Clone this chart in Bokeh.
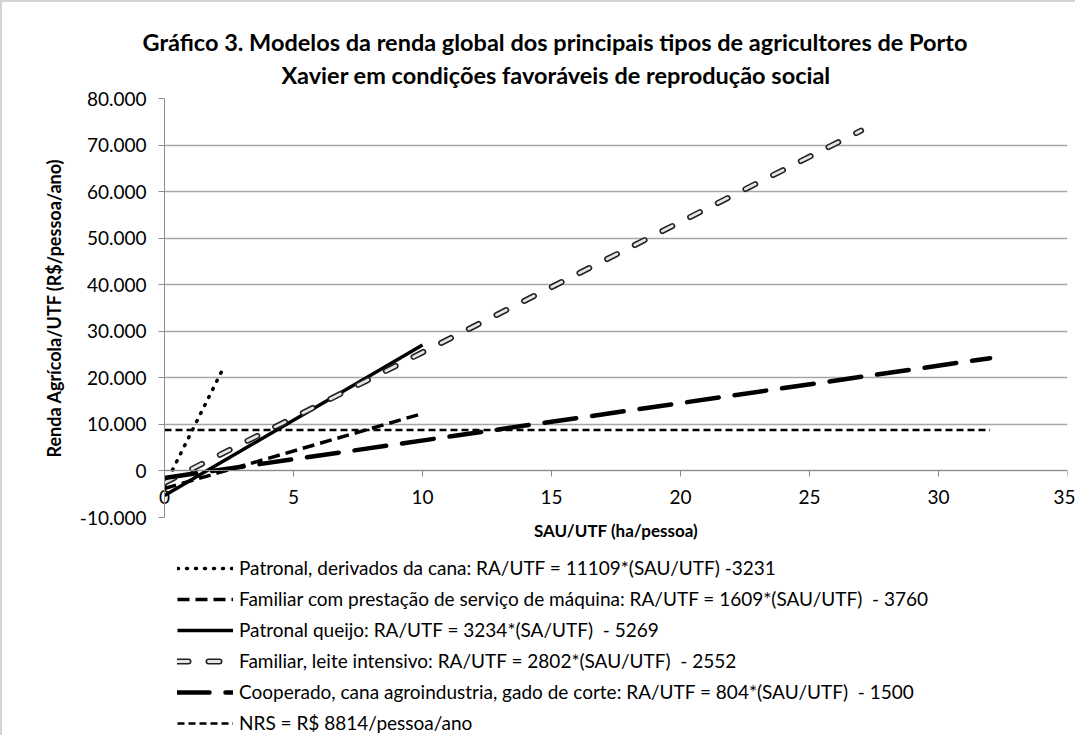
from bokeh.plotting import figure
from bokeh.layouts import column
from bokeh.models import (Range1d, LinearAxis, FixedTicker, Legend, LegendItem, Title)
from bokeh.embed import file_html
from bokeh.resources import INLINE

# ---- data (endpoints of each model line) ----
names = [
    "Patronal, derivados da cana: RA/UTF = 11109*(SAU/UTF) -3231",
    "Familiar com prestação de serviço de máquina: RA/UTF = 1609*(SAU/UTF)  - 3760",
    "Patronal queijo: RA/UTF = 3234*(SA/UTF)  - 5269",
    "Familiar, leite intensivo: RA/UTF = 2802*(SAU/UTF)  - 2552",
    "Cooperado, cana agroindustria, gado de corte: RA/UTF = 804*(SAU/UTF)  - 1500",
    "NRS = R$ 8814/pessoa/ano",
]
cana_x = [0, 2.23]
cana_y = [-3231, 21542]
maquina_x = [0, 10]
maquina_y = [-3760, 12330]
queijo_x = [0, 10]
queijo_y = [-5269, 27071]
leite_x = [0, 27]
leite_y = [-2552, 73102]
coop_x = [0, 32]
coop_y = [-1500, 24228]
nrs_x = [0, 32]
nrs_y = [8814, 8814]

y_ticks = [-10000, 0, 10000, 20000, 30000, 40000, 50000, 60000, 70000, 80000]
x_ticks = [0, 5, 10, 15, 20, 25, 30, 35]

FONT = "Lato"
GRID = "#a6a6a6"
AXIS = "#8c8c8c"
BORDER = "2px solid #d4d4d4"

series = [
    (cana_x, cana_y, [dict(line_color="black", line_width=3.5, line_dash="1 8", line_cap="round")]),
    (maquina_x, maquina_y, [dict(line_color="black", line_width=3.5, line_dash="12 6")]),
    (queijo_x, queijo_y, [dict(line_color="black", line_width=3.5)]),
    (leite_x, leite_y, [dict(line_color="#222222", line_width=6, line_dash="11 20", line_cap="round"),
                        dict(line_color="#e6e6e6", line_width=2.8, line_dash="11 20", line_cap="round")]),
    (coop_x, coop_y, [dict(line_color="black", line_width=4.5, line_dash="32 16", line_cap="round")]),
    (nrs_x, nrs_y, [dict(line_color="black", line_width=2.5, line_dash="7 4")]),
]

# ---------------- chart ----------------
p = figure(width=1075, height=543, output_backend="svg", toolbar_location=None,
           x_range=Range1d(0, 35), y_range=Range1d(-10000, 80000),
           x_axis_location=None, y_axis_location=None,
           min_border_left=162, min_border_right=10, min_border_top=96,
           min_border_bottom=28)
p.styles = {"border-top": BORDER, "border-left": BORDER}
p.outline_line_color = None
p.background_fill_color = "white"
p.border_fill_color = "white"

p.add_layout(Title(text="Xavier em condições favoráveis de reprodução social",
                   align="left", offset=117, text_font=FONT, text_font_size="23.5px",
                   text_font_style="bold", text_color="black", standoff=19), "above")
p.add_layout(Title(text="Gráfico 3. Modelos da renda global dos principais tipos de agricultores de Porto",
                   align="left", offset=-22, text_font=FONT, text_font_size="23.5px",
                   text_font_style="bold", text_color="black", standoff=-13), "above")

yax = LinearAxis(ticker=FixedTicker(ticks=y_ticks),
                 major_label_overrides={v: (f"{v:,}".replace(",", ".")) for v in y_ticks},
                 axis_label="Renda Agrícola/UTF (R$/pessoa/ano)")
yax.axis_label_text_font = FONT
yax.axis_label_text_font_size = "18px"
yax.axis_label_text_font_style = "bold"
yax.axis_label_text_color = "black"
yax.axis_label_standoff = 12
yax.major_label_text_font = FONT
yax.major_label_text_font_size = "19px"
yax.major_label_text_color = "black"
yax.axis_line_color = AXIS
yax.major_tick_line_color = AXIS
yax.major_tick_out = 6
yax.major_tick_in = 0
yax.minor_tick_line_color = None
yax.major_label_standoff = 12
p.add_layout(yax, "left")

# horizontal axis line + ticks crossing at y = 0
xax = LinearAxis(ticker=FixedTicker(ticks=x_ticks), fixed_location=0)
xax.major_label_text_color = None
xax.axis_line_color = AXIS
xax.major_tick_line_color = AXIS
xax.major_tick_out = 6
xax.major_tick_in = 0
xax.minor_tick_line_color = None
p.add_layout(xax, "below")

# tick labels (pulled up next to the y = 0 line) and axis title
xlab = LinearAxis(ticker=FixedTicker(ticks=x_ticks), axis_label="SAU/UTF (ha/pessoa)")
xlab.axis_line_color = None
xlab.major_tick_line_color = None
xlab.minor_tick_line_color = None
xlab.major_tick_out = 0
xlab.major_tick_in = 0
xlab.major_label_standoff = -28
xlab.major_label_text_font = FONT
xlab.major_label_text_font_size = "19px"
xlab.major_label_text_color = "black"
xlab.axis_label_text_font = FONT
xlab.axis_label_text_font_size = "17px"
xlab.axis_label_text_font_style = "bold"
xlab.axis_label_text_color = "black"
xlab.axis_label_standoff = 13
p.add_layout(xlab, "below")

p.xgrid.visible = False
p.ygrid.ticker = FixedTicker(ticks=y_ticks)
p.ygrid.grid_line_color = GRID
p.ygrid.grid_line_width = 1.3

for xs, ys, styles in series:
    for st in styles:
        p.line(xs, ys, **st)

# ---------------- legend panel ----------------
q = figure(width=1075, height=192, output_backend="svg", toolbar_location=None,
           x_range=Range1d(100, 101), y_range=Range1d(100, 101),
           x_axis_location=None, y_axis_location=None,
           min_border_left=162, min_border_right=10, min_border_top=0,
           min_border_bottom=0)
q.styles = {"border-left": BORDER}
q.outline_line_color = None
q.xgrid.visible = False
q.ygrid.visible = False

items = []
for name, (xs, ys, styles) in zip(names, series):
    rs = [q.line(xs, ys, **st) for st in styles]
    items.append(LegendItem(label=name, renderers=rs))

legend = Legend(items=items, location="top_left", orientation="vertical")
legend.label_text_font = FONT
legend.label_text_font_size = "19px"
legend.label_text_color = "black"
legend.glyph_width = 56
legend.glyph_height = 22
legend.label_height = 22
legend.label_standoff = 6
legend.spacing = 8
legend.padding = 0
legend.margin = 13
legend.border_line_color = None
legend.background_fill_alpha = 0
q.add_layout(legend)

layout = column(p, q, spacing=0)
open("out.html", "w").write(file_html(layout, INLINE))
